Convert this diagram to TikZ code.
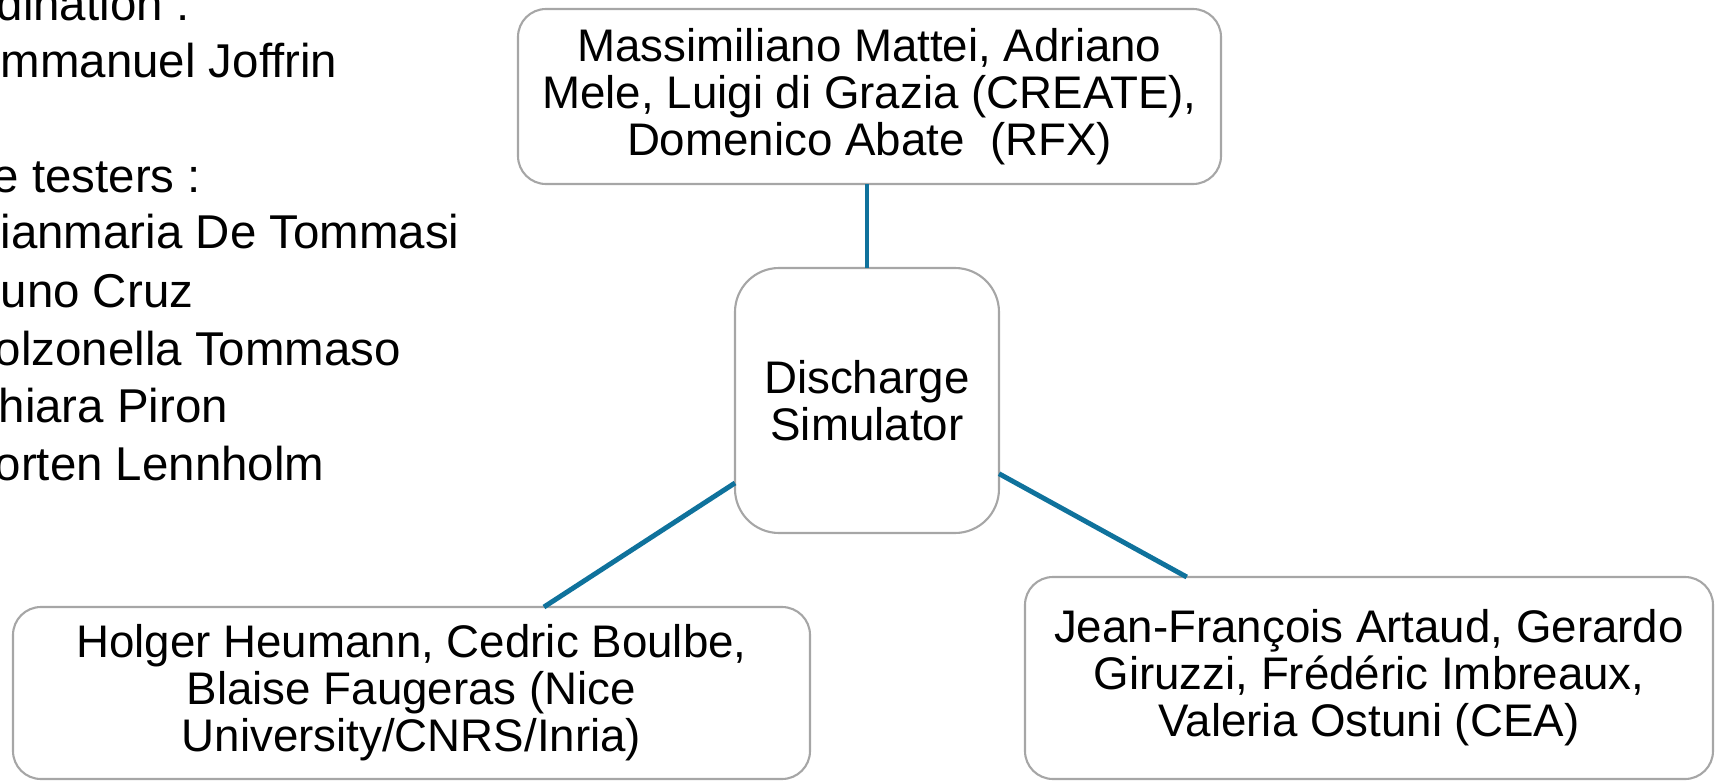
\documentclass[tikz,border=0pt]{standalone}
\usepackage{fontspec}
\setmainfont{Liberation Sans}
\definecolor{boxgray}{HTML}{A6A6A6}
\definecolor{linkblue}{HTML}{0F729C}

\begin{document}
\begin{tikzpicture}[
  namebox/.style={draw=boxgray, line width=0.6pt, rounded corners=0.28cm, align=center,
    inner sep=0pt, outer sep=0pt, font=\fontsize{13}{13.4}\selectfont},
  link/.style={draw=linkblue, line width=1.4pt},
  listline/.style={anchor=base west, inner sep=0pt, font=\fontsize{13.5}{15}\selectfont}]
\useasboundingbox (0,0) rectangle (17.16,7.81);
% list of people, top left
\node[listline] (coord)  at (-0.04,7.61) {dination :};
\node[listline] (lead)   at (0,7.04) {mmanuel Joffrin};
\node[listline] (test)   at (-0.08,5.89) {e testers :};
\node[listline] (tstA)   at (0,5.33) {ianmaria De Tommasi};
\node[listline] (tstB)   at (0,4.74) {uno Cruz};
\node[listline] (tstC)   at (-0.06,4.16) {olzonella Tommaso};
\node[listline] (tstD)   at (-0.02,3.59) {hiara Piron};
\node[listline] (tstE)   at (-0.06,3.01) {orten Lennholm};
% boxes
\node[namebox, minimum width=7.03cm, minimum height=1.75cm] (create) at (8.695,6.845)
  {Massimiliano Mattei, Adriano\\Mele, Luigi di Grazia (CREATE),\\Domenico Abate\ \ (RFX)};
\node[namebox, rounded corners=0.44cm, minimum width=2.64cm, minimum height=2.65cm] (dsim) at (8.67,3.805)
  {Discharge\\Simulator};
\node[namebox, minimum width=7.97cm, minimum height=1.72cm] (nice) at (4.115,0.88)
  {Holger Heumann, Cedric Boulbe,\\Blaise Faugeras (Nice\\University/CNRS/Inria)};
\node[namebox, minimum width=6.88cm, minimum height=2.02cm] (cea) at (13.69,1.03)
  {Jean-François Artaud, Gerardo\\Giruzzi, Frédéric Imbreaux,\\Valeria Ostuni (CEA)};
% connectors
\draw[link] (dsim.north) -- (dsim.north |- create.south);
\draw[link] (dsim.212.6) -- (nice.33);
\draw[link] (dsim.331.2) -- (cea.151.4);
\end{tikzpicture}
\end{document}
